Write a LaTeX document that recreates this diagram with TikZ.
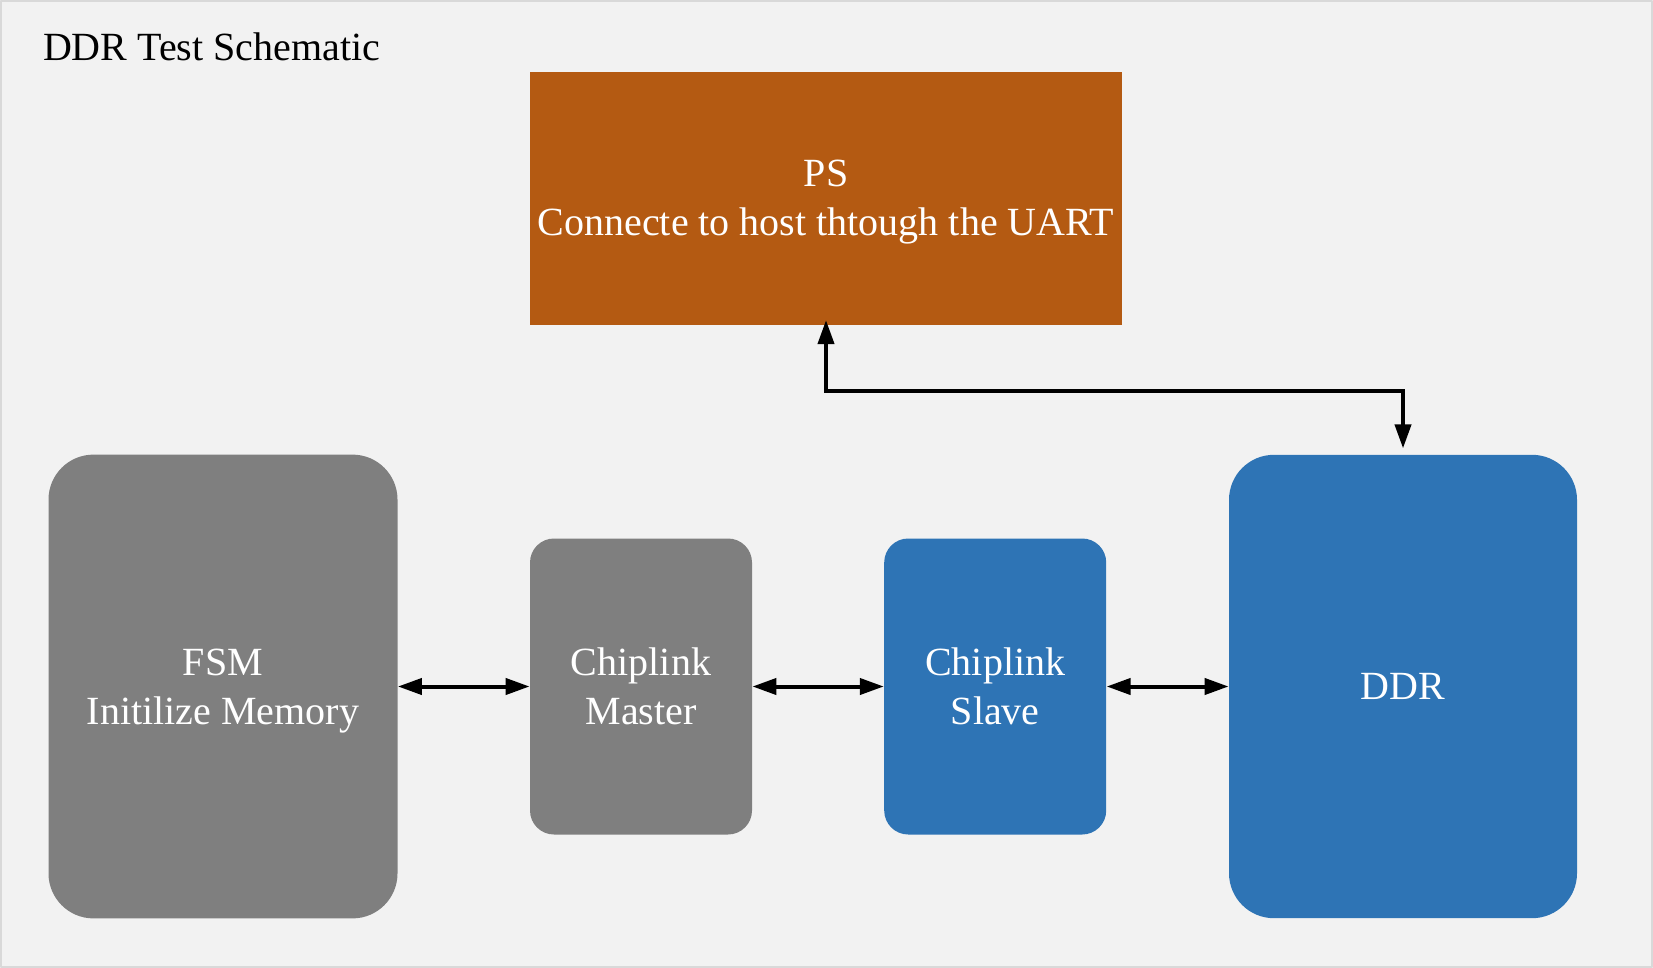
\documentclass[tikz,border=0pt]{standalone}
\usepackage{fontspec}
\setmainfont{Liberation Serif}
\usepackage{tikz}
\usetikzlibrary{arrows.meta}

\definecolor{psorange}{HTML}{B45A12}
\definecolor{blockgray}{HTML}{7F7F7F}
\definecolor{blockblue}{HTML}{2E74B5}
\definecolor{paper}{HTML}{F2F2F2}
\definecolor{frame}{HTML}{D9D9D9}

\begin{document}
\begin{tikzpicture}[x=0.5pt, y=-0.5pt, line cap = round, line join = round, >={Triangle[length=12pt,width=8pt]}]
\tikzstyle{block1}=[fill=psorange, text=white, align=center, inner sep=0pt, text depth=0pt, font=\fontsize{20}{24.5}\selectfont]
\tikzstyle{block2}=[fill=blockgray, text=white, align=center, inner sep=0pt, text depth=0pt, font=\fontsize{20}{24.5}\selectfont]
\tikzstyle{block3}=[fill=blockblue, text=white, align=center, inner sep=0pt, text depth=0pt, font=\fontsize{20}{24.5}\selectfont]
\tikzstyle{link}=[line width=2pt, <->, line cap=butt]
\fill[paper] (0,0) rectangle (1653,968);
\draw[frame, line width=1pt] (1,1) rectangle (1652,967);
\node[anchor=base west, inner sep=0pt, font=\fontsize{20}{24}\selectfont] (title) at (42.7,60.7) {DDR Test Schematic};

\node[block1, minimum width=296.3pt, minimum height=126.5pt] (PS) at (826,198.2) {PS\\Connecte to host thtough the UART};
\node[block2, minimum width=174.5pt, minimum height=231.9pt, rounded corners=22.5pt] (FSM) at (223,686.5) {FSM\\Initilize Memory};
\node[block2, minimum width=111pt, minimum height=148pt, rounded corners=12pt] (master) at (641,686.5) {Chiplink\\Master};
\node[block3, minimum width=111pt, minimum height=148pt, rounded corners=12pt] (slave) at (995.2,686.5) {Chiplink\\Slave};
\node[block3, minimum width=174pt, minimum height=231.7pt, rounded corners=22.5pt] (DDR) at (1403,686.5) {DDR};
\coordinate (turn) at (1403,390.7);

\draw[link] (FSM) -- (master);
\draw[link] (master) -- (slave);
\draw[link] (slave) -- (DDR);
\draw[link, line join=miter, shorten <=-2.5pt, shorten >=3pt] (PS.south) |- (turn) -- (DDR.north);
\end{tikzpicture}
\end{document}
